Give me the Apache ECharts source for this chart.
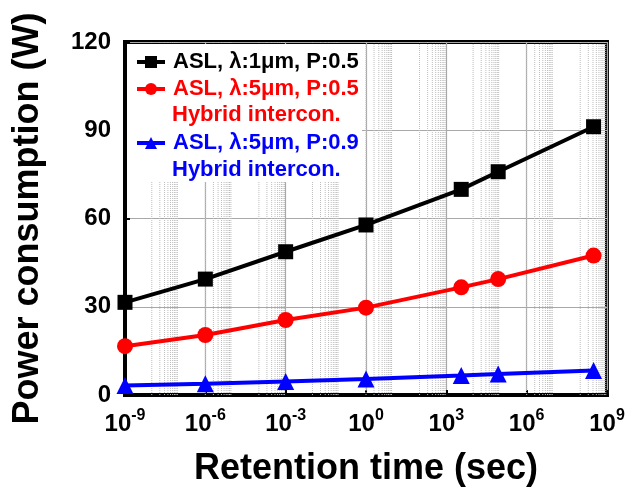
<!DOCTYPE html>
<html><head><meta charset="utf-8">
<script src="https://cdn.jsdelivr.net/npm/echarts@6/dist/echarts.min.js"></script>
<style>html,body{margin:0;padding:0;background:#fff}#c{width:629px;height:487px}</style>
</head><body><div id="c"></div>
<script>
// ---- data ----
const retentionTimes = [1e-9, 1e-6, 1e-3, 1, 3600, 86400, 3.15e8];
const seriesNames = ['ASL, λ:1μm, P:0.5', 'ASL, λ:5μm, P:0.5', 'ASL, λ:5μm, P:0.9'];
const aslL1P05 = [31.5, 39.4, 48.7, 57.8, 69.9, 75.9, 91.2];
const aslL5P05 = [16.6, 20.4, 25.5, 29.7, 36.6, 39.4, 47.4];
const aslL5P09 = [3.2, 3.8, 4.6, 5.4, 6.6, 7.1, 8.3];
const yTicks = [0, 30, 60, 90, 120];
const minorDecades = [-8, -6, -4, -2, 0, 2, 4, 6, 8];
const minorMultipliers = [1, 2, 3, 4, 5, 6, 7, 8, 9];
const secondLines = ['', 'Hybrid intercon.', 'Hybrid intercon.'];
const colors = ['#000000', '#ff0000', '#0000ff'];
const symbols = ['rect', 'circle', 'triangle'];
const symbolSizes = [15, 16, 17];
const allValues = [aslL1P05, aslL5P05, aslL5P09];

const FONT = '"Liberation Sans", Arial, sans-serif';

// minor grid lines (axis decoration): vertical segments from y=0 to y=120, separated by gaps
const minorGridData = [];
minorDecades.forEach(d => minorMultipliers.forEach(m => {
  const x = m * Math.pow(10, d);
  minorGridData.push([x, 0], [x, 120], [x, '-']);
}));

const chart = echarts.init(document.getElementById('c'), null, { renderer: 'canvas' });

const series = allValues.map((vals, i) => ({
  name: seriesNames[i],
  type: 'line',
  data: retentionTimes.map((t, j) => [t, vals[j]]),
  symbol: symbols[i],
  symbolSize: symbolSizes[i],
  itemStyle: { color: colors[i] },
  lineStyle: { color: colors[i], width: 4 },
  z: 3,
  animation: false
}));

series.unshift({
  name: 'minorGrid',
  type: 'line',
  data: minorGridData,
  silent: true,
  z: 0,
  showSymbol: false,
  symbol: 'none',
  connectNulls: false,
  lineStyle: { type: 'dotted', color: '#bdbdbd', width: 1 },
  animation: false
});

const legendTops = [51, 78, 132];
const legends = seriesNames.map((n, i) => ({
  data: [{ name: n, textStyle: { color: colors[i] } }],
  left: 135,
  top: legendTops[i],
  padding: 0,
  itemWidth: 28,
  itemHeight: 15,
  lineStyle: { width: 4 },
  textStyle: { fontFamily: FONT, fontWeight: 'bold', fontSize: 22, lineHeight: 22, padding: [0, 0, 0, 3] },
  selectedMode: false,
  z: 10
}));

const option = {
  backgroundColor: '#ffffff',
  animation: false,
  grid: { left: 125, right: 22, top: 42, bottom: 92, outerBoundsMode: 'none', containLabel: false, show: true, borderColor: '#000', borderWidth: 4, backgroundColor: 'transparent' },
  legend: legends,
  graphic: [
    { type: 'rect', shape: { x: 127, y: 44, width: 235, height: 138 }, style: { fill: '#ffffff' }, z: 1, silent: true },
    { type: 'text', left: 172, top: 104, z: 10, style: { text: secondLines[1], fill: colors[1], font: 'bold 22px ' + FONT } },
    { type: 'text', left: 172, top: 159, z: 10, style: { text: secondLines[2], fill: colors[2], font: 'bold 22px ' + FONT } }
  ],
  xAxis: {
    type: 'log',
    logBase: 1000,
    min: 1e-9,
    max: 1e9,
    name: 'Retention time (sec)',
    nameLocation: 'middle',
    nameGap: 56,
    nameTextStyle: { fontFamily: FONT, fontWeight: 'bold', fontSize: 36, color: '#000' },
    axisLine: { lineStyle: { color: '#000', width: 4 } },
    axisTick: { inside: true, length: 5, lineStyle: { color: '#000', width: 2 } },
    minorTick: { show: false },
    splitLine: { show: true, lineStyle: { color: '#a8a8a8', width: 1.2 } },
    axisLabel: {
      margin: 13,
      color: '#000',
      formatter: v => '{a|10}{b|' + Math.round(Math.log10(v)) + '}',
      rich: {
        a: { fontFamily: FONT, fontWeight: 'bold', fontSize: 24, color: '#000' },
        b: { fontFamily: FONT, fontWeight: 'bold', fontSize: 16, color: '#000', padding: [0, 0, 17, 0] }
      }
    }
  },
  yAxis: {
    type: 'value',
    min: 0,
    max: 120,
    interval: 30,
    name: 'Power consumption (W)',
    nameLocation: 'middle',
    nameGap: 79,
    nameTextStyle: { fontFamily: FONT, fontWeight: 'bold', fontSize: 36, color: '#000' },
    axisLine: { show: true, lineStyle: { color: '#000', width: 4 } },
    axisTick: { show: true, inside: true, length: 5, lineStyle: { color: '#000', width: 2 } },
    splitLine: { show: true, lineStyle: { color: '#a8a8a8', width: 1.2 } },
    axisLabel: {
      margin: 14,
      color: '#000',
      fontFamily: FONT, fontWeight: 'bold', fontSize: 24,
      formatter: v => (yTicks.indexOf(v) >= 0 ? String(v) : '')
    }
  },
  series: series
};
chart.setOption(option);
</script>
</body></html>
